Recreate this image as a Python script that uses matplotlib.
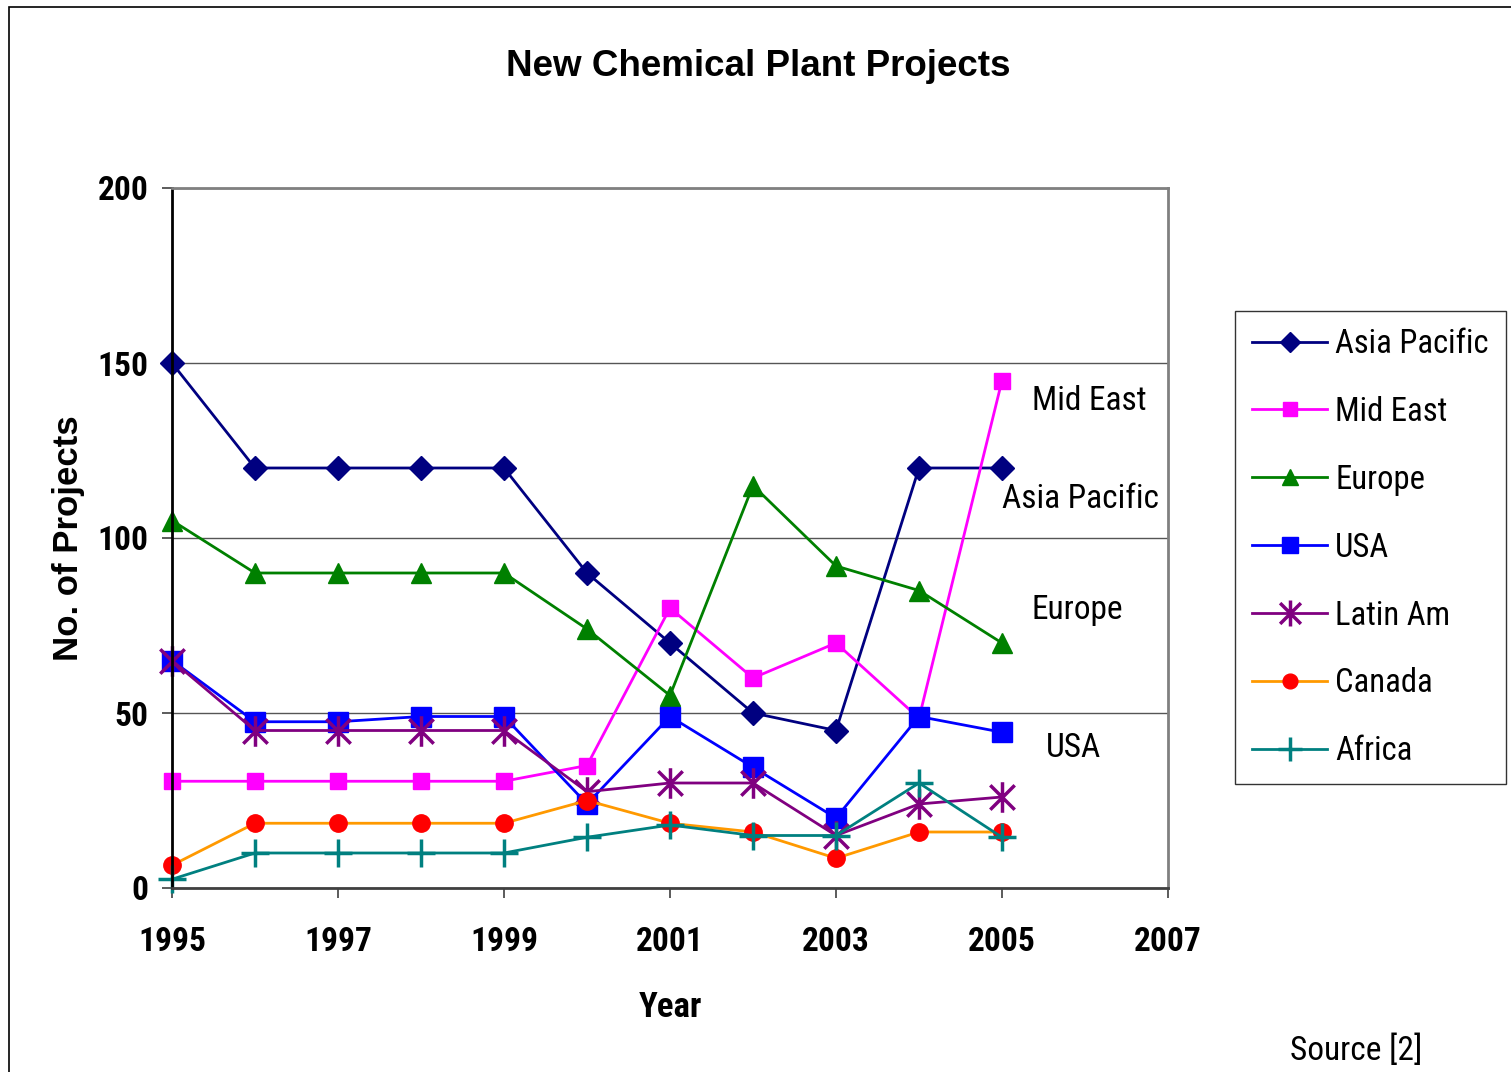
import numpy as np
import matplotlib.pyplot as plt
from matplotlib.path import Path
from matplotlib.patches import Rectangle

years = np.arange(1995, 2006)

asia_pacific = [150, 120, 120, 120, 120, 90, 70, 50, 45, 120, 120]
mid_east = [30.5, 30.5, 30.5, 30.5, 30.5, 35, 80, 60, 70, 48.5, 145]
europe = [105, 90, 90, 90, 90, 74, 55, 115, 92, 85, 70]
usa = [65, 47.5, 47.5, 49, 49, 24, 49, 34.5, 20, 49, 44.5]
latin_am = [65, 45, 45, 45, 45, 27.5, 30, 30, 15, 24, 26]
canada = [6.5, 18.5, 18.5, 18.5, 18.5, 25, 18.5, 16, 8.5, 16, 16]
africa = [2.5, 10, 10, 10, 10, 14.5, 18, 15, 15, 30, 14.5]

narrow = ['Roboto Condensed', 'DejaVu Sans']
wide = ['Liberation Sans', 'DejaVu Sans']

# asterisk marker: vertical bar plus an X
star = Path([(0, -1), (0, 1), (-0.8, -0.8), (0.8, 0.8), (-0.8, 0.8), (0.8, -0.8)],
            [Path.MOVETO, Path.LINETO] * 3)

fig = plt.figure(figsize=(15.11, 10.72), dpi=100)
fig.patches.append(Rectangle((9 / 1511, -0.05), 1.1, 1.05 - 7 / 1072,
                             transform=fig.transFigure, fill=False,
                             edgecolor='black', linewidth=1.2))
ax = fig.add_axes([172 / 1511, 1 - 888 / 1072, 996 / 1511, 700 / 1072])

lw = 2
ax.plot(years, asia_pacific, color='#000080', lw=lw, marker='D', ms=12,
        label='Asia Pacific', clip_on=False)
ax.plot(years, mid_east, color='#FF00FF', lw=lw, marker='s', ms=12,
        label='Mid East', clip_on=False)
ax.plot(years, europe, color='#008000', lw=lw, marker='^', ms=14,
        label='Europe', clip_on=False)
ax.plot(years, usa, color='#0000FF', lw=lw, marker='s', ms=14,
        label='USA', clip_on=False)
ax.plot(years, latin_am, color='#800080', lw=lw, marker=star, ms=22, mew=2.5,
        label='Latin Am', clip_on=False)
ax.plot(years, canada, color='#FF9900', lw=lw, marker='o', ms=12.5,
        mfc='#FF0000', mec='#FF0000', label='Canada', clip_on=False)
ax.plot(years, africa, color='#008080', lw=lw, marker='+', ms=20, mew=2.5,
        label='Africa', clip_on=False)

ax.set_xlim(1995, 2007)
ax.set_ylim(0, 200)
ax.set_xticks(np.arange(1995, 2008, 2))
ax.set_yticks(np.arange(0, 201, 50))
ax.yaxis.grid(True, color='#555555', linewidth=1)
ax.set_axisbelow(True)
for side in ['top', 'right']:
    ax.spines[side].set_color('#808080')
    ax.spines[side].set_linewidth(2)
ax.spines['left'].set_color('black')
ax.spines['left'].set_linewidth(2)
ax.spines['bottom'].set_color('#404040')
ax.spines['bottom'].set_linewidth(2)
ax.tick_params(length=7, width=1.2, color='#404040')
for lab in ax.get_xticklabels() + ax.get_yticklabels():
    lab.set_family(narrow)
    lab.set_fontsize(24)
    lab.set_fontweight('bold')
ax.tick_params(axis='x', pad=20.5)
ax.tick_params(axis='y', pad=10)

ax.set_xlabel('Year', family=narrow, fontsize=25, fontweight='bold')
ax.xaxis.set_label_coords(0.5, -0.147)
ax.set_ylabel('No. of Projects', family=wide, fontsize=25, fontweight='bold')
ax.yaxis.set_label_coords(-0.087, 0.5)

fig.text(758 / 1511, 1 - 67 / 1072, 'New Chemical Plant Projects', family=wide,
         fontsize=26.5, fontweight='bold', ha='center', va='center')

ax.text(2005.36, 139, 'Mid East', family=narrow, fontsize=24, va='center')
ax.text(2005.0, 111, 'Asia Pacific', family=narrow, fontsize=24, va='center')
ax.text(2005.36, 79.5, 'Europe', family=narrow, fontsize=24, va='center')
ax.text(2005.53, 40, 'USA', family=narrow, fontsize=24, va='center')

fig.text(1290 / 1511, 1 - 1051 / 1072, 'Source [2]', family=narrow, fontsize=24,
         va='center')

leg = ax.legend(loc='upper left', bbox_to_anchor=(1235 / 1511, 1 - 311 / 1072),
                bbox_transform=fig.transFigure, frameon=True, fancybox=False,
                prop={'family': narrow, 'size': 23.5}, handlelength=2.3,
                handletextpad=0.25, labelspacing=1.1, borderpad=0.52,
                borderaxespad=0, markerscale=0.85)
leg.get_frame().set_edgecolor('black')
leg.get_frame().set_linewidth(1)

fig.savefig('out.png', dpi=100)
